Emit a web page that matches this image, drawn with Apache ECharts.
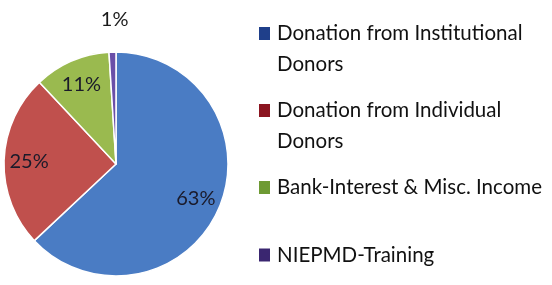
<!DOCTYPE html>
<html>
<head>
<meta charset="utf-8">
<script src="https://cdn.jsdelivr.net/npm/echarts@6/dist/echarts.min.js"></script>
<style>
  html, body { margin: 0; padding: 0; background: #fff; overflow: hidden; }
</style>
</head>
<body>
<div id="chart" style="width: 552px; height: 285px"></div>
<script>
// 数据
var categories = [
  'Donation from Institutional\nDonors',
  'Donation from Individual\nDonors',
  'Bank-Interest & Misc. Income',
  'NIEPMD-Training'
]
var values = [63, 25, 11, 1]
var sliceColors = ['#4a7cc4', '#c0504d', '#9aba4f', '#6a4fa8']
var legendColors = ['#1f3f8a', '#8b1520', '#6e9a34', '#3a2670']

var chart = echarts.init(document.getElementById('chart'))

var pieData = categories.map(function (name, i) {
  return { name: name, value: values[i], itemStyle: { color: sliceColors[i] } }
})

// legend squares are drawn as rich text boxes so they sit on the first line
var rich = {
  t: { fontFamily: 'Lato', fontSize: 20.5, color: '#111', lineHeight: 31 },
  pad: { width: 18, lineHeight: 31 },
  blank: { fontSize: 10, lineHeight: 23 },
}
legendColors.forEach(function (c, i) {
  rich['sq' + i] = { width: 11, height: 13, backgroundColor: c, lineHeight: 31 }
  rich['gap' + i] = { width: 7, lineHeight: 31 }
})

var option = {
  animation: false,
  legend: {
    orient: 'vertical',
    left: 253,
    top: 23,
    padding: 0,
    itemGap: 25,
    itemWidth: 0,
    itemHeight: 0,
    icon: 'rect',
    selectedMode: false,
    data: categories,
    formatter: function (name) {
      var i = categories.indexOf(name)
      var lines = name.split('\n')
      var s = '{sq' + i + '| }{gap' + i + '| }{t|' + lines[0] + '}'
      for (var k = 1; k < lines.length; k++) {
        s += '\n{pad| }{t|' + lines[k] + '}'
      }
      if (lines.length === 1 && i < categories.length - 1) {
        s += '\n{blank| }' // extra space under the one-line item
      }
      return s
    },
    textStyle: { rich: rich, padding: 0 },
  },
  series: [
    {
      // slices
      type: 'pie',
      center: [116, 164],
      radius: [0, 112],
      startAngle: 90,
      clockwise: true,
      silent: true,
      itemStyle: { borderColor: '#fff', borderWidth: 1.5 },
      label: { show: false },
      labelLine: { show: false },
      data: pieData.map(function (d, i) {
        var o = Object.assign({}, d)
        if (i === 3) {
          o.label = {
            show: true,
            position: 'outside',
            formatter: '{d}%',
            fontFamily: 'Lato',
            fontSize: 20,
            color: '#1a1a1a',
          }
          o.labelLine = { show: false, length: 33, length2: 0 }
        }
        return o
      }),
      labelLayout: function () {
        return { dx: 22 }
      },
    },
    {
      // percentage labels, pushed out towards the rim
      type: 'pie',
      center: [116, 164],
      radius: [56, 112],
      startAngle: 90,
      clockwise: true,
      silent: true,
      itemStyle: { color: 'rgba(0,0,0,0)' },
      label: {
        show: true,
        position: 'inside',
        formatter: '{d}%',
        fontFamily: 'Lato',
        fontSize: 20,
        color: '#1a1a2a',
      },
      data: pieData.map(function (d, i) {
        return {
          name: d.name,
          value: d.value,
          label: { show: i < 3 },
        }
      }),
    },
  ],
}

chart.setOption(option)
</script>
</body>
</html>
